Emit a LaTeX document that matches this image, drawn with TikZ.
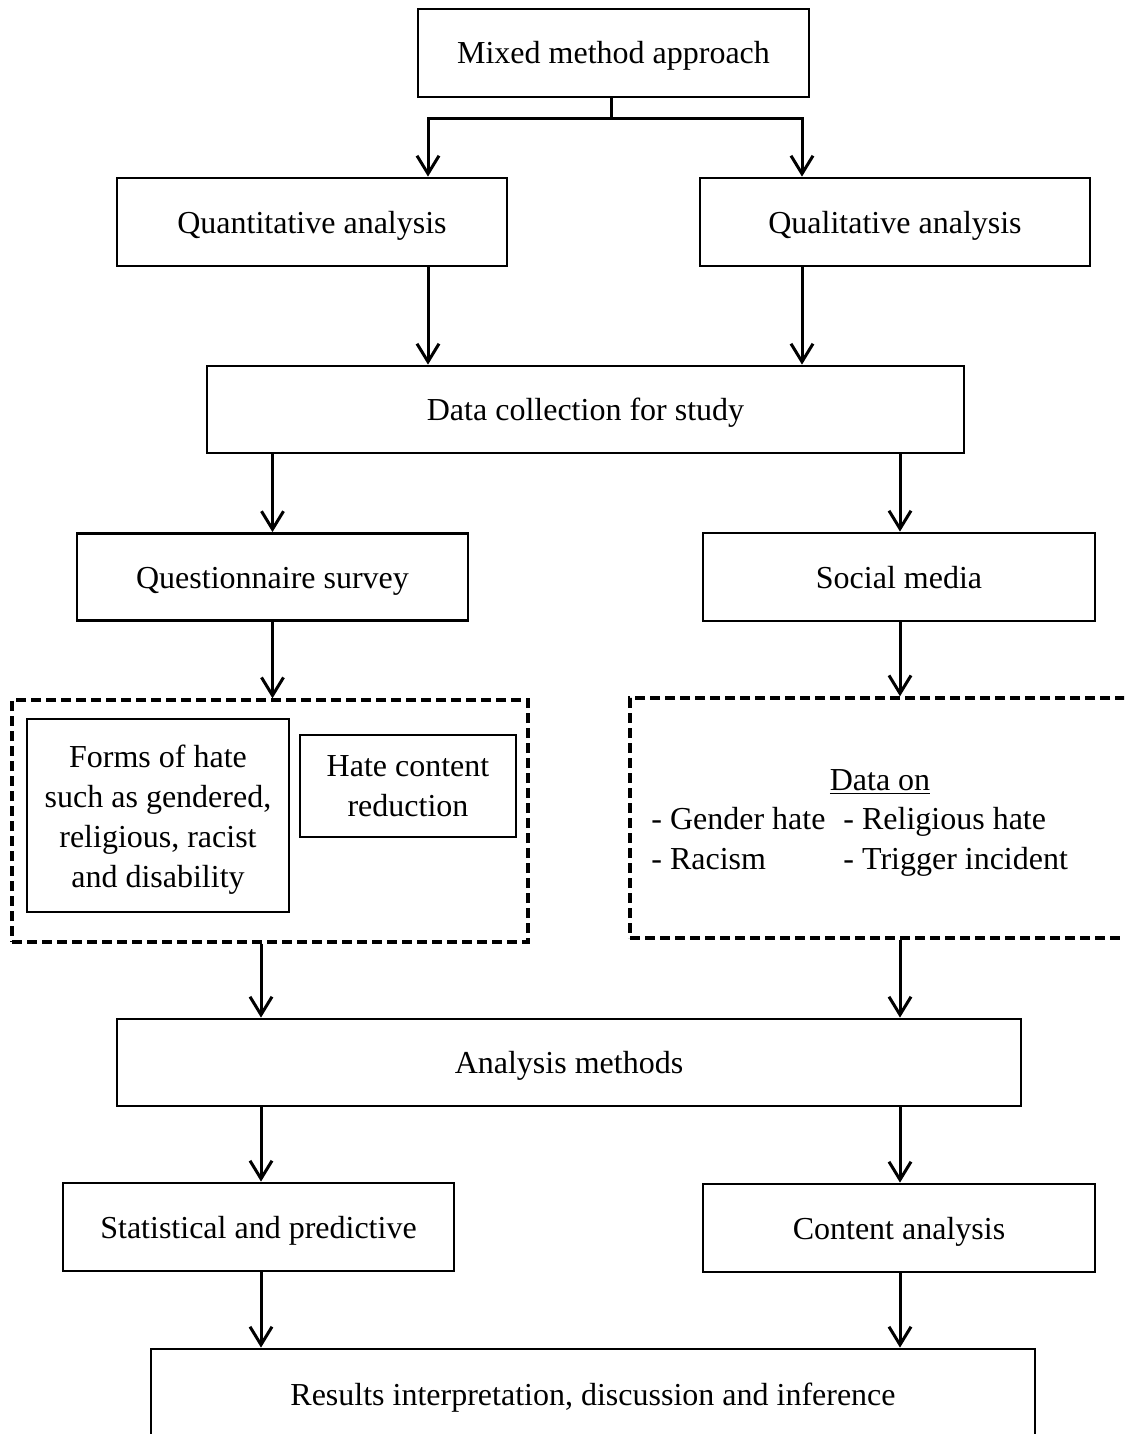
\documentclass[tikz,border=0pt]{standalone}
\usepackage{fontspec}
\setmainfont{Liberation Serif}
\usetikzlibrary{arrows.meta}

% lower a block of text without changing the space it takes
\newcommand{\lowered}[2]{\raisebox{-#1}[\height][\depth]{#2}}

\begin{document}
\begin{tikzpicture}[
  x=0.5pt, y=-0.5pt,
  font=\fontsize{16}{20}\selectfont,
  box/.style={draw, line width=1.4pt, inner sep=0pt, align=center},
  one/.style={box, text height=11pt, text depth=0pt},
  group/.style={draw, line width=1.7pt, dash pattern=on 5pt off 2.5pt, inner sep=0pt},
  arr/.style={line width=1.5pt, -{Straight Barb[length=9pt, width=11pt, line width=1.5pt]}},
  plain/.style={line width=1.5pt},
  item/.style={anchor=base west, inner sep=0pt},
]
% page frame
\clip (0,0) rectangle (1124,1434);
\fill[white] (0,0) rectangle (1124,1434);

% connector columns
\coordinate (colA) at (428,0);
\coordinate (colB) at (802,0);
\coordinate (colL) at (261,0);
\coordinate (colR) at (900,0);
\coordinate (fork) at (611,119);

% boxes
\node[one, minimum width=195.5pt, minimum height=44pt] (mixed) at (613.5,53) {Mixed method approach};
\node[one, minimum width=195pt, minimum height=44pt] (quant) at (312,222) {Quantitative analysis};
\node[one, minimum width=195pt, minimum height=44pt] (qual) at (895,222) {Qualitative analysis};
\node[one, minimum width=378.5pt, minimum height=43.5pt] (data) at (585.5,409.5) {Data collection for study};
\node[one, minimum width=195.5pt, minimum height=43.5pt] (quest) at (272.5,577) {Questionnaire survey};
\node[one, minimum width=196pt, minimum height=44pt] (social) at (899,577) {Social media};

% questionnaire topics
\node[group, minimum width=258pt, minimum height=121pt] (qgroup) at (270,821) {};
\node[box, minimum width=131pt, minimum height=96.5pt] (forms) at (158,815.5)
  {\lowered{2pt}{\begin{tabular}{@{}c@{}}Forms of hate\\such as gendered,\\religious, racist\\and disability\end{tabular}}};
\node[box, minimum width=108pt, minimum height=51pt] (reduce) at (408,786)
  {\lowered{1pt}{\begin{tabular}{@{}c@{}}Hate content\\reduction\end{tabular}}};

% social media topics
\node[group, minimum width=270pt, minimum height=120pt] (sgroup) at (900,818) {};
\node[inner sep=0pt, anchor=base] (dataon) at (880,790) {\underline{Data on}};
\node[item] (gender) at (651,829) {- Gender hate};
\node[item] (relig) at (843,829) {- Religious hate};
\node[item] (racism) at (651,869) {- Racism};
\node[item] (trigger) at (843,869) {- Trigger incident};

\node[one, minimum width=452pt, minimum height=43.5pt] (analysis) at (569,1062.5) {Analysis methods};
\node[one, minimum width=195.5pt, minimum height=44pt] (stat) at (258.5,1227) {Statistical and predictive};
\node[one, minimum width=196pt, minimum height=44pt] (content) at (899,1228) {Content analysis};
\node[one, minimum width=442pt, minimum height=45.5pt] (results) at (593,1394.5) {Results interpretation, discussion and inference};

% connectors
\draw[plain] (mixed.south -| fork) -- (fork);
\draw[arr] (fork) -| (quant.north -| colA);
\draw[arr] (fork) -| (qual.north -| colB);
\draw[arr] (quant.south -| colA) -- (data.north -| colA);
\draw[arr] (qual.south -| colB) -- (data.north -| colB);
\draw[arr] (data.south -| quest.north) -- (quest.north);
\draw[arr] (data.south -| colR) -- (social.north -| colR);
\draw[arr] (quest.south) -- (qgroup.north -| quest.south);
\draw[arr] (social.south -| colR) -- (sgroup.north -| colR);
\draw[arr] (qgroup.south -| colL) -- (analysis.north -| colL);
\draw[arr] (sgroup.south -| colR) -- (analysis.north -| colR);
\draw[arr] (analysis.south -| colL) -- (stat.north -| colL);
\draw[arr] (analysis.south -| colR) -- (content.north -| colR);
\draw[arr] (stat.south -| colL) -- (results.north -| colL);
\draw[arr] (content.south -| colR) -- (results.north -| colR);
\end{tikzpicture}
\end{document}
